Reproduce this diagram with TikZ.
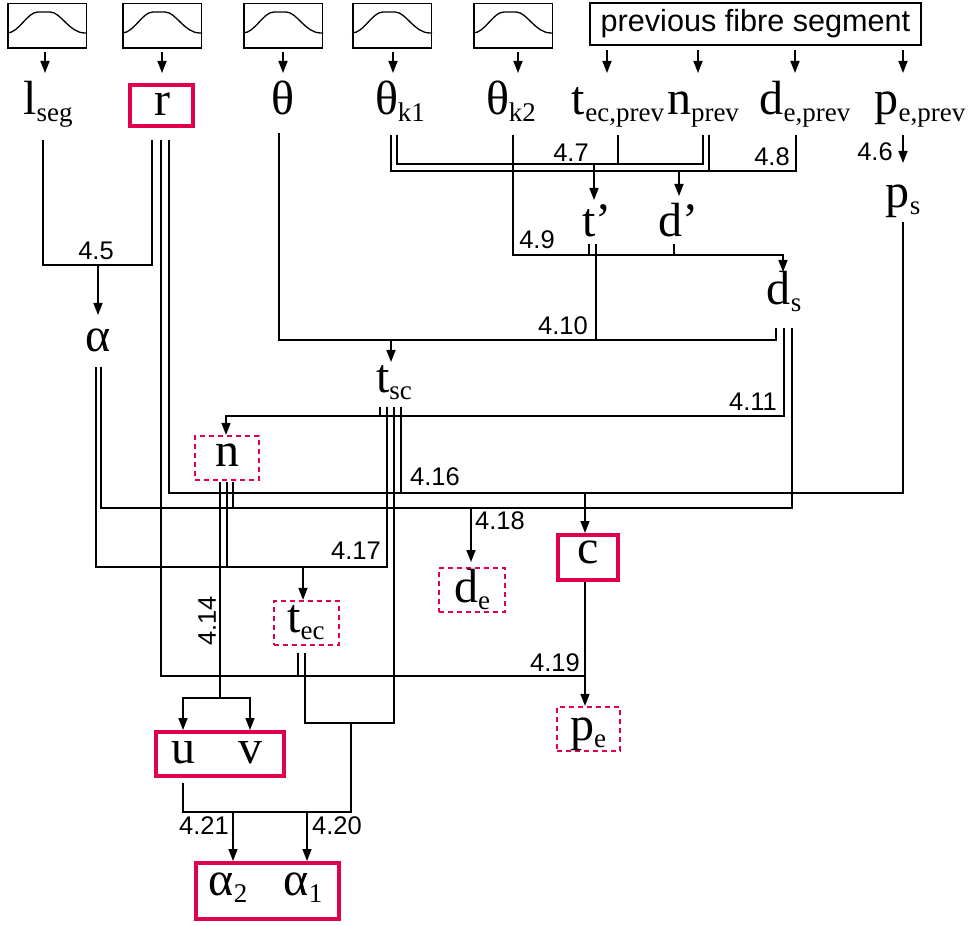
\documentclass[tikz,border=0pt]{standalone}
\usepackage{fontspec}
\setmainfont{Liberation Serif}
\newfontfamily\numfont{Liberation Sans}
\usetikzlibrary{arrows.meta}
\definecolor{crim}{RGB}{224,0,77}
\newcommand\vsub[2]{#1\raisebox{-7pt}{\fontsize{27}{27}\selectfont #2}}
\begin{document}
\begin{tikzpicture}[x=1pt,y=-1pt,line width=1.5pt,
  arr/.style={-{Triangle[length=12pt,width=9pt]}},
  var/.style={inner sep=0pt,anchor=base,font=\fontsize{48}{50}\selectfont},
  num/.style={inner sep=0pt,font=\numfont\fontsize{25.5}{26}\selectfont},
  distbox/.style={draw,line width=1.5pt,minimum width=78.5pt,minimum height=44.5pt,inner sep=0pt},
  redbox/.style={draw=crim,line width=4pt,inner sep=0pt},
  redopt/.style={draw=crim,line width=2.2pt,dash pattern=on 5pt off 4pt,inner sep=0pt}]
\useasboundingbox (0,0) rectangle (970,925);

% distribution boxes
\foreach \L/\nm in {7/da,122/db,243/dc,352/dd,473/de}{
  \node[distbox] (\nm) at (\L+40,26) {};
  \draw[line width=1.3pt] (\L,33) .. controls (\L+12,33) and (\L+20,12) .. (\L+31,12) -- (\L+43,12) .. controls (\L+54,12) and (\L+62,33) .. (\L+78,33) -- (\L+80,33);
}
\node[draw,line width=1.6pt,minimum width=331pt,minimum height=42pt,inner sep=0pt,
  font=\numfont\fontsize{30.6}{32}\selectfont] (prev) at (755.5,24) {previous fibre segment};

\foreach \x in {45,162,283,393,518} \draw[arr] (\x,52) -- (\x,73);
\foreach \x in {607,698,795,903} \draw[arr] (\x,50) -- (\x,73);

% boxes
\node[redbox,minimum width=63pt,minimum height=41pt] (rbox) at (161.5,105.5) {};
\node[redopt,minimum width=64pt,minimum height=44pt] (nbox) at (227,458) {};
\node[redopt,minimum width=65pt,minimum height=44pt] (tecbox) at (306.5,623) {};
\node[redopt,minimum width=66pt,minimum height=44pt] (debox) at (472,590) {};
\node[redbox,minimum width=60pt,minimum height=45pt] (cbox) at (588,557.5) {};
\node[redopt,minimum width=63pt,minimum height=44pt] (pebox) at (588.5,729) {};
\node[redbox,minimum width=128pt,minimum height=44pt] (uvbox) at (220,754) {};
\node[redbox,minimum width=143pt,minimum height=56pt] (abox) at (267.5,891) {};

% variable labels
\node[var] (lseg) at (48,115) {\vsub{l}{seg}};
\node[var] (r) at (162,116) {r};
\node[var] (th) at (283,115) {θ};
\node[var] (thk1) at (400,115) {\vsub{θ}{k1}};
\node[var] (thk2) at (511,115) {\vsub{θ}{k2}};
\node[var] (tecp) at (618,115) {\vsub{t}{ec,prev}};
\node[var] (np) at (703,115) {\vsub{n}{prev}};
\node[var] (dep) at (805,115) {\vsub{d}{e,prev}};
\node[var] (pep) at (920,115) {\vsub{p}{e,prev}};
\node[var] (tp) at (597,237) {t’};
\node[var] (dp) at (678,237) {d’};
\node[var] (ps) at (903,208) {\vsub{p}{s}};
\node[var] (ds) at (784,305) {\vsub{d}{s}};
\node[var] (al) at (98,352) {α};
\node[var] (tsc) at (394,393) {\vsub{t}{sc}};
\node[var] (n) at (227,467) {n};
\node[var] (de) at (472,602) {\vsub{d}{e}};
\node[var] (c) at (588,563) {c};
\node[var] (tec) at (306,632) {\vsub{t}{ec}};
\node[var] (pe) at (588,740) {\vsub{p}{e}};
\node[var] (u) at (183,763) {u};
\node[var] (v) at (250,763) {v};
\node[var] (a2) at (228,895) {\vsub{α}{2}};
\node[var] (a1) at (303,895) {\vsub{α}{1}};

% equation numbers
\node[num] (e5) at (96,251) {4.5};
\node[num] (e7) at (571,153) {4.7};
\node[num] (e8) at (772,157) {4.8};
\node[num] (e6) at (875,152) {4.6};
\node[num] (e9) at (537,240) {4.9};
\node[num] (e10) at (563,326) {4.10};
\node[num] (e11) at (753,402) {4.11};
\node[num] (e16) at (435,477) {4.16};
\node[num] (e17) at (356,551) {4.17};
\node[num] (e18) at (500,521) {4.18};
\node[num,rotate=90] (e14) at (207,621) {4.14};
\node[num] (e19) at (555,663) {4.19};
\node[num] (e21) at (204,826) {4.21};
\node[num] (e20) at (337,826) {4.20};

% 4.5
\draw (43,140) -- (43,265) -- (152,265) -- (152,140);
\draw[arr] (98,265) -- (98,315);
% r lines
\draw (161,140) -- (161,676) -- (585,676);
\draw (169,140) -- (169,493) -- (903,493) -- (903,222);
\draw[arr] (585,493) -- (585,0 |- cbox.north);
% theta, 4.10
\draw (279,133) -- (279,340) -- (776,340) -- (776,328);
\draw (596,244) -- (596,340);
\draw[arr] (391,340) -- (391,362);
% 4.7, 4.8
\draw (391,135) -- (391,171) -- (796,171) -- (796,135);
\draw (397,135) -- (397,164) -- (703,164) -- (703,135);
\draw (618,135) -- (618,164);
\draw (709,135) -- (709,171);
\draw[arr] (594,164) -- (594,200);
\draw[arr] (679,171) -- (679,196);
% 4.9
\draw[arr] (513,135) -- (513,255) -- (783,255) -- (783,272);
\draw (589,244) -- (589,255);
\draw (674,244) -- (674,255);
% 4.6
\draw[arr] (903,135) -- (903,163);
% 4.11
\draw[arr] (784,328) -- (784,416) -- (226,416) -- (226,0 |- nbox.north);
\draw (380,407) -- (380,416);
% 4.18
\draw (792,328) -- (792,508) -- (101,508) -- (101,367);
\draw[arr] (471,508) -- (471,562);
\draw (233,482) -- (233,508);
% 4.17
\draw (96,367) -- (96,567) -- (387,567) -- (387,407);
\draw (227,482) -- (227,567);
\draw[arr] (303,567) -- (303,0 |- tecbox.north);
% t_sc lines
\draw (394,407) -- (394,723) -- (305,723) -- (305,653);
\draw (351,723) -- (351,812) -- (183,812) -- (183,783);
\draw (401,407) -- (401,493);
% 4.14
\draw (220,482) -- (220,698);
\draw[arr] (220,698) -- (183,698) -- (183,0 |- uvbox.north);
\draw[arr] (220,698) -- (250,698) -- (250,0 |- uvbox.north);
% t_ec left
\draw (298,653) -- (298,676);
% c to p_e
\draw[arr] (585,0 |- cbox.south) -- (585,0 |- pebox.north);
% 4.20 / 4.21
\draw[arr] (233,812) -- (233,0 |- abox.north);
\draw[arr] (307,812) -- (307,0 |- abox.north);
\end{tikzpicture}
\end{document}
